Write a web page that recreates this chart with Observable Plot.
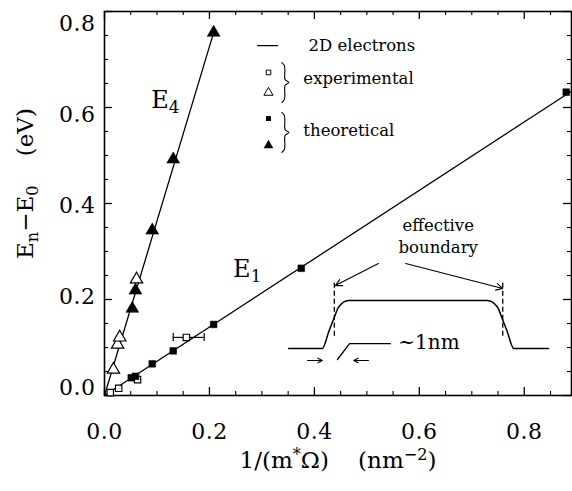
<!DOCTYPE html>
<html><head><meta charset="utf-8">
<script src="https://cdn.jsdelivr.net/npm/d3@7"></script>
<script src="https://cdn.jsdelivr.net/npm/@observablehq/plot@0.6"></script>
<style>
html,body{margin:0;padding:0;background:#fff;}
svg text{font-family:"DejaVu Serif",serif !important;}
.ticklab text{letter-spacing:0.5px;}
</style></head><body><div id="chart"></div>
<script>
// ---- data ----
// E1 (lower line): experimental (open squares) and theoretical (filled squares)
const e1ExpX = [0.011, 0.027, 0.063, 0.156];
const e1ExpY = [0.006, 0.015, 0.033, 0.121];
const e1ErrLo = [null, null, null, 0.131];
const e1ErrHi = [null, null, null, 0.190];
const e1TheoX = [0.051, 0.059, 0.091, 0.131, 0.208, 0.375, 0.880];
const e1TheoY = [0.037, 0.040, 0.066, 0.093, 0.148, 0.265, 0.632];
// E4 (steep line): experimental (open triangles) and theoretical (filled triangles)
const e4ExpX = [0.017, 0.025, 0.029, 0.061];
const e4ExpY = [0.054, 0.106, 0.121, 0.242];
const e4TheoX = [0.053, 0.059, 0.091, 0.131, 0.208];
const e4TheoY = [0.181, 0.219, 0.344, 0.492, 0.756];
// 2D-electron lines
const e1LineX = [0, 0.89];
const e1LineY = [0, 0.634];
const e4LineX = [0, 0.208];
const e4LineY = [0, 0.756];
// axes
const xTicks = [0, 0.2, 0.4, 0.6, 0.8];
const yTicks = [0, 0.2, 0.4, 0.6, 0.8];
const xMinor = [0.05,0.1,0.15,0.25,0.3,0.35,0.45,0.5,0.55,0.65,0.7,0.75,0.85];
const yMinor = [0.05,0.1,0.15,0.25,0.3,0.35,0.45,0.5,0.55,0.65,0.7,0.75];
const xLabel = "1/(m^{*}Ω)    (nm^{−2})";
const yLabel = "E_{n}−E_{0}    (eV)";
// inset schematic (effective boundary sketch), in plot units
const profX = [0.351, 0.415, 0.428, 0.437, 0.446, 0.465, 0.730, 0.749, 0.758, 0.767, 0.780, 0.846];
const profY = [0.098, 0.098, 0.135, 0.160, 0.184, 0.198, 0.198, 0.184, 0.160, 0.135, 0.098, 0.098];
const nmX = [0.444, 0.467, 0.545];
const nmY = [0.075, 0.108, 0.108];

const zip = (xs, ys) => xs.map((x, i) => ({x, y: ys[i]}));
const e1Exp = e1ExpX.map((x, i) => ({x, y: e1ExpY[i], lo: e1ErrLo[i], hi: e1ErrHi[i]}));
const e1Theo = zip(e1TheoX, e1TheoY);
const e4Exp = zip(e4ExpX, e4ExpY);
const e4Theo = zip(e4TheoX, e4TheoY);
const errs = e1Exp.filter(d => d.lo != null);

const W = 572, H = 491, ML = 104, MR = 1, MT = 11, MB = 96;
const FW = W - ML - MR, FH = H - MT - MB;
const XMAX = 0.89, YMAX = 0.8;
const kx = XMAX / FW, ky = YMAX / FH; // data units per pixel
const MAJ = 8, MIN = 4;

// brace glyph drawn as a thin curve (pixel offsets from its tip centre)
const braceDX = [0, 2.5, 3, 3.2, 7, 3.2, 3, 2.5, 0];
const braceDY = [-20, -17, -12, -3, 0, 3, 12, 17, 20];
const brace = (cx, cy) => braceDX.map((dx, i) => ({x: cx + dx * kx, y: cy - braceDY[i] * ky}));

const serif = "DejaVu Serif";
const txt = (o) => ({fontFamily: serif, ...o});
const chart = Plot.plot({
  width: W, height: H,
  marginLeft: ML, marginRight: MR, marginTop: MT, marginBottom: MB,
  x: {domain: [0, XMAX]},
  y: {domain: [0, YMAX], axis: null},
  style: {fontFamily: serif, fontSize: "22px", color: "black", background: "white"},
  marks: [
    // tick marks inside the frame, all four sides
    Plot.tickX(xTicks, {x: d => d, insetTop: FH - MAJ, strokeWidth: 1.3}),
    Plot.tickX(xTicks, {x: d => d, insetBottom: FH - MAJ, strokeWidth: 1.3}),
    Plot.tickX(xMinor, {x: d => d, insetTop: FH - MIN, strokeWidth: 1.1}),
    Plot.tickX(xMinor, {x: d => d, insetBottom: FH - MIN, strokeWidth: 1.1}),
    Plot.tickY(yTicks, {y: d => d, insetRight: FW - MAJ, strokeWidth: 1.3}),
    Plot.tickY(yTicks, {y: d => d, insetLeft: FW - MAJ, strokeWidth: 1.3}),
    Plot.tickY(yMinor, {y: d => d, insetRight: FW - MIN, strokeWidth: 1.1}),
    Plot.tickY(yMinor, {y: d => d, insetLeft: FW - MIN, strokeWidth: 1.1}),
    Plot.frame({stroke: "black", strokeWidth: 1.6}),
    Plot.axisX({ticks: xTicks, tickSize: 0, tickPadding: 28, tickFormat: d => d.toFixed(1), label: null,
      className: "ticklab", fontFamily: serif, fontSize: 22}),
    // y tick labels (the reference prints them slightly off their ticks)
    Plot.text(yTicks, {y: d => d - (-8 + 25 * d) * ky, frameAnchor: "left", dx: -9, textAnchor: "end",
      text: d => d.toFixed(1), fontSize: 22, className: "ticklab", fontFamily: serif}),
    Plot.text([xLabel], txt({frameAnchor: "bottom", dy: 72, text: d => d, fontSize: 23})),
    Plot.text([yLabel], txt({x: -79 * kx, y: (395 - 183) * ky, rotate: -90, textAnchor: "middle",
      text: d => d, fontSize: 23})),
    // 2D electron lines
    Plot.line(zip(e1LineX, e1LineY), {x: "x", y: "y", stroke: "black", strokeWidth: 1.3}),
    Plot.line(zip(e4LineX, e4LineY), {x: "x", y: "y", stroke: "black", strokeWidth: 1.3}),
    // error bar
    Plot.ruleY(errs, {y: "y", x1: "lo", x2: "hi", stroke: "black", strokeWidth: 1.2}),
    Plot.ruleX(errs, {x: "lo", y1: d => d.y - 4 * ky, y2: d => d.y + 4 * ky, strokeWidth: 1.2}),
    Plot.ruleX(errs, {x: "hi", y1: d => d.y - 4 * ky, y2: d => d.y + 4 * ky, strokeWidth: 1.2}),
    // points
    Plot.dot(e1Exp, {x: "x", y: "y", symbol: "square", r: 3.6, fill: "white", stroke: "black", strokeWidth: 1.2}),
    Plot.dot(e4Exp, {x: "x", y: "y", symbol: "triangle", r: 4.6, fill: "white", stroke: "black", strokeWidth: 1.2}),
    Plot.dot(e1Theo, {x: "x", y: "y", symbol: "square", r: 3.8, fill: "black", stroke: "black", strokeWidth: 0.5}),
    Plot.dot(e4Theo, {x: "x", y: "y", symbol: "triangle", r: 4.8, fill: "black", stroke: "black", strokeWidth: 0.5}),
    // curve labels
    Plot.text(["E_{4}"], txt({x: 0.116, y: 0.615, text: d => d, fontSize: 24})),
    Plot.text(["E_{1}"], txt({x: 0.272, y: 0.262, text: d => d, fontSize: 24})),
    // legend
    Plot.line([{x: 0.292, y: 0.729}, {x: 0.330, y: 0.729}], {x: "x", y: "y", stroke: "black", strokeWidth: 1.4}),
    Plot.text(["2D electrons"], txt({x: 0.389, y: 0.729, text: d => d, textAnchor: "start", fontSize: 16.5})),
    Plot.dot([{x: 0.3125, y: 0.673}], {x: "x", y: "y", symbol: "square", r: 2.6, fill: "white", stroke: "black", strokeWidth: 1}),
    Plot.dot([{x: 0.3125, y: 0.631}], {x: "x", y: "y", symbol: "triangle", r: 3.4, fill: "white", stroke: "black", strokeWidth: 1}),
    Plot.dot([{x: 0.3125, y: 0.577}], {x: "x", y: "y", symbol: "square", r: 2.8, fill: "black"}),
    Plot.dot([{x: 0.3125, y: 0.521}], {x: "x", y: "y", symbol: "triangle", r: 3.6, fill: "black"}),
    Plot.line(brace(0.338, 0.652), {x: "x", y: "y", stroke: "black", strokeWidth: 1.1, curve: "catmull-rom"}),
    Plot.line(brace(0.338, 0.548), {x: "x", y: "y", stroke: "black", strokeWidth: 1.1, curve: "catmull-rom"}),
    Plot.text(["experimental"], txt({x: 0.379, y: 0.660, text: d => d, textAnchor: "start", fontSize: 16.5})),
    Plot.text(["theoretical"], txt({x: 0.379, y: 0.552, text: d => d, textAnchor: "start", fontSize: 16.5})),
    // inset schematic
    Plot.line(zip(profX, profY), {x: "x", y: "y", stroke: "black", strokeWidth: 1.5, curve: "monotone-x"}),
    Plot.link([{x1: 0.438, y1: 0.235, x2: 0.438, y2: 0.121}, {x1: 0.759, y1: 0.235, x2: 0.759, y2: 0.121}],
      {x1: "x1", y1: "y1", x2: "x2", y2: "y2", stroke: "black", strokeWidth: 1.3, strokeDasharray: "5,3"}),
    Plot.arrow([{x1: 0.522, y1: 0.275, x2: 0.440, y2: 0.229}, {x1: 0.574, y1: 0.275, x2: 0.759, y2: 0.223},
                {x1: 0.387, y1: 0.073, x2: 0.415, y2: 0.073}, {x1: 0.503, y1: 0.073, x2: 0.475, y2: 0.073}],
      {x1: "x1", y1: "y1", x2: "x2", y2: "y2", stroke: "black", strokeWidth: 1.1, headLength: 10, headAngle: 55}),
    Plot.line(zip(nmX, nmY), {x: "x", y: "y", stroke: "black", strokeWidth: 1.3}),
    Plot.text(["~1nm"], txt({x: 0.560, y: 0.110, text: d => d, textAnchor: "start", fontSize: 20})),
    Plot.text(["effective"], txt({x: 0.636, y: 0.354, text: d => d, fontSize: 16.5})),
    Plot.text(["boundary"], txt({x: 0.636, y: 0.308, text: d => d, fontSize: 16.5}))
  ]
});

// rich text: _{..} subscript, ^{..} superscript
d3.select(chart).selectAll("text").each(function() {
  const t = this.textContent;
  if (!/[_^]\{/.test(t)) return;
  const el = d3.select(this);
  el.text(null);
  const re = /([_^])\{([^}]*)\}/g;
  let last = 0, m, shifted = 0;
  const add = (s, kind) => {
    if (!s) return;
    const ts = el.append("tspan").text(s);
    if (kind === "_") { ts.attr("dy", "0.3em").attr("font-size", "70%"); shifted = 0.3; }
    else if (kind === "^") { ts.attr("dy", "-0.45em").attr("font-size", "70%"); shifted = -0.45; }
    else if (shifted) { ts.attr("dy", (-shifted * 0.7) + "em"); shifted = 0; }
  };
  while ((m = re.exec(t))) {
    add(t.slice(last, m.index), null);
    add(m[2], m[1]);
    last = re.lastIndex;
  }
  add(t.slice(last), null);
});

document.getElementById("chart").appendChild(chart);
</script></body></html>
